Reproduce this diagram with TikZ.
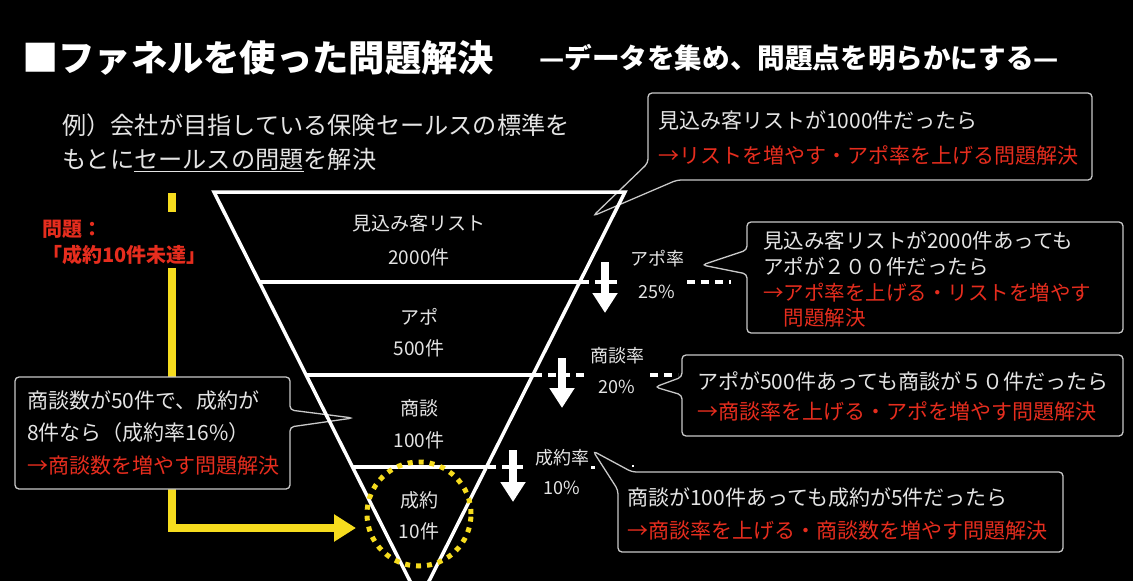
\documentclass[tikz,border=0pt]{standalone}
\usepackage{fontspec}
\setmainfont{Noto Sans CJK JP}
\usetikzlibrary{arrows.meta,calc}
\definecolor{txt}{RGB}{228,228,228}
\definecolor{redc}{RGB}{230,45,30}
\definecolor{yel}{RGB}{246,220,30}
\definecolor{boxc}{RGB}{200,200,200}
\tikzset{
  titletext/.style={anchor=west, inner sep=0, text=white, font=\bfseries\fontsize{36.3}{36}\selectfont},
  subtitletext/.style={anchor=west, inner sep=0, text=white, font=\bfseries\fontsize{27.6}{27}\selectfont},
  bodytext/.style={anchor=west, inner sep=0, text=txt, font=\fontsize{24.2}{24}\selectfont},
  problab/.style={anchor=west, inner sep=0, align=left, text=redc, font=\bfseries\fontsize{20}{26}\selectfont},
  funnellab/.style={inner sep=0, align=center, text=txt},
  ratelab/.style={inner sep=0, align=center, text=txt},
  boxtext/.style={anchor=west, inner sep=0, align=left, text=txt},
  boxline/.style={draw=boxc, line width=1.3pt, fill=black, rounded corners=4pt},
  funnelline/.style={draw=white, line width=3.5pt},
  dashline/.style={draw=white, line width=3.5pt, dash pattern=on 8pt off 6pt},
  downarrow/.style={draw=white, line width=8pt, -{Triangle[width=24pt,length=20pt]}},
  yline/.style={draw=yel, line width=8pt},
  goalring/.style={circle, draw=yel, line width=5pt, dash pattern=on 5pt off 6pt, minimum size=104pt, inner sep=0}
}
\begin{document}
\begin{tikzpicture}[x=1pt,y=-1pt]
\useasboundingbox (0,0) rectangle (1133,581);
\fill[black] (0,0) rectangle (1133,581);
\clip (0,0) rectangle (1133,581);

% titles
\node[titletext] (title) at (22,58) {■ファネルを使った問題解決};
\node[subtitletext] (subtitle) at (539,58) {—データを集め、問題点を明らかにする—};
\node[bodytext] (ex1) at (62,125) {例）会社が目指している保険セールスの標準を};
\node[bodytext] (ex2) at (62,160) {もとに\underline{セールスの問題}を解決};

% problem label
\node[problab] (prob) at (42,242) {問題：\\「成約10件未達」};

% yellow line and arrow
\coordinate (ytop) at (172,193);
\coordinate (ytopend) at (172,212);
\coordinate (ystart) at (172,268);
\coordinate (yend) at (356,528);
\draw[yline] (ytop) -- (ytopend);
\draw[yline, -{Triangle[width=26pt,length=22pt]}] (ystart) |- (yend);

% callout boxes
\coordinate (tipL) at (353,418);
\filldraw[boxline] (290,410) -- (290,377) -- (15,377) -- (15,489) -- (290,489) -- (290,427) -- (tipL) -- cycle;
\coordinate (tip1) at (593,216);
\filldraw[boxline] (648,163) -- (648,93) -- (1092,93) -- (1092,180) -- (677,180) -- (tip1) -- cycle;
\coordinate (tip2) at (702,265);
\filldraw[boxline] (747,250) -- (747,222) -- (1123,222) -- (1123,333) -- (747,333) -- (747,274) -- (tip2) -- cycle;
\coordinate (tip3) at (655,387);
\filldraw[boxline] (682,377) -- (682,355) -- (1123,355) -- (1123,436) -- (682,436) -- (682,395) -- (tip3) -- cycle;
\coordinate (tip4) at (593,451);
\filldraw[boxline] (632,472) -- (1063,472) -- (1063,552) -- (618,552) -- (618,490) -- (tip4) -- cycle;

% funnel
\coordinate (FL) at (214,192);
\coordinate (FR) at (625,192);
\coordinate (FA) at (419.5,600);
\draw[funnelline] (FL) -- (FR) -- (FA) -- cycle;
\draw[funnelline] ($(FL)!90/408!(FA)$) -- ($(FR)!90/408!(FA)$);
\draw[funnelline] ($(FL)!183/408!(FA)$) -- ($(FR)!183/408!(FA)$);
\draw[funnelline] ($(FL)!275/408!(FA)$) -- ($(FR)!275/408!(FA)$);

% dashed extensions
\draw[dashline] (581,282) -- (621,282);
\draw[dashline] (687,282) -- (731,282);
\draw[dashline] (534,375) -- (584,375);
\draw[dashline] (650,375) -- (678,375);
\draw[dashline] (488,467) -- (523,467);
\draw[draw=white, line width=3pt] (591,467) -- (595,467);
\draw[draw=white, line width=2pt] (632,466) -- (634,466);

% down arrows
\draw[downarrow] (605,262) -- (605,313);
\draw[downarrow] (562,358) -- (562,408);
\draw[downarrow] (513,450) -- (513,502);

% goal ring
\node[goalring] (goal) at (419,514) {};

% funnel labels
\node[funnellab, font=\fontsize{19}{34}\selectfont] (stage1) at (419,240) {見込み客リスト\\2000件};
\node[funnellab, font=\fontsize{19}{31}\selectfont] (stage2) at (419,332.5) {アポ\\500件};
\node[funnellab, font=\fontsize{19}{32}\selectfont] (stage3) at (419,424) {商談\\100件};
\node[funnellab, font=\fontsize{19}{31}\selectfont] (stage4) at (419,515.5) {成約\\10件};

% rate labels
\node[ratelab, font=\fontsize{18}{33}\selectfont] (rate1) at (657,274.5) {アポ率\\25\%};
\node[ratelab, font=\fontsize{18}{31}\selectfont] (rate2) at (617,370.5) {商談率\\20\%};
\node[ratelab, font=\fontsize{18}{30}\selectfont] (rate3) at (562,472) {成約率\\10\%};

% box texts
\node[boxtext, font=\fontsize{21}{35}\selectfont] (box1) at (658,137.5) {見込み客リストが1000件だったら\\\textcolor{redc}{→リストを増やす・アポ率を上げる問題解決}};
\node[boxtext, font=\fontsize{20.5}{25.7}\selectfont] (box2) at (763,279.5) {見込み客リストが2000件あっても\\アポが２００件だったら\\\textcolor{redc}{→アポ率を上げる・リストを増やす}\\\hspace*{1em}\textcolor{redc}{問題解決}};
\node[boxtext, font=\fontsize{21}{30}\selectfont] (box3) at (697,396) {アポが500件あっても商談が５０件だったら\\\textcolor{redc}{→商談率を上げる・アポを増やす問題解決}};
\node[boxtext, font=\fontsize{21}{33}\selectfont] (box4) at (627,513.5) {商談が100件あっても成約が5件だったら\\\textcolor{redc}{→商談率を上げる・商談数を増やす問題解決}};
\node[boxtext, font=\fontsize{21}{32.5}\selectfont] (boxL) at (27,432.5) {商談数が50件で、成約が\\8件なら（成約率16\%）\\\textcolor{redc}{→商談数を増やす問題解決}};
\end{tikzpicture}
\end{document}
